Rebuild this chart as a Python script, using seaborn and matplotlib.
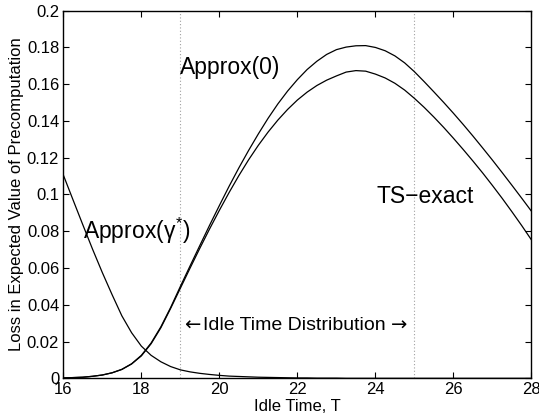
import matplotlib
matplotlib.use("Agg")
import matplotlib.pyplot as plt
import seaborn as sns
import numpy as np
import pandas as pd
from matplotlib.ticker import FormatStrFormatter

sns.set_style("ticks")
plt.rcParams['font.family'] = ['Liberation Sans', 'DejaVu Sans']
plt.rcParams['mathtext.fontset'] = 'custom'
plt.rcParams['mathtext.rm'] = 'Liberation Sans'
plt.rcParams['mathtext.it'] = 'Liberation Sans'
for k in ['text.color', 'axes.labelcolor', 'xtick.color', 'ytick.color', 'axes.edgecolor']:
    plt.rcParams[k] = 'black'

# idle time grid, values every 0.25
T = [16.0, 16.25, 16.5, 16.75, 17.0, 17.25, 17.5, 17.75, 18.0, 18.25, 18.5, 18.75,
     19.0, 19.25, 19.5, 19.75, 20.0, 20.25, 20.5, 20.75, 21.0, 21.25, 21.5, 21.75,
     22.0, 22.25, 22.5, 22.75, 23.0, 23.25, 23.5, 23.75, 24.0, 24.25, 24.5, 24.75,
     25.0, 25.25, 25.5, 25.75, 26.0, 26.25, 26.5, 26.75, 27.0, 27.25, 27.5, 27.75, 28.0]

# upper hump
approx0 = [0.0002, 0.0004, 0.0006, 0.0011, 0.0018, 0.0030, 0.0049, 0.0079, 0.0125, 0.0192,
           0.0280, 0.0385, 0.0500, 0.0612, 0.0723, 0.0833, 0.0940, 0.1045, 0.1145, 0.1240,
           0.1330, 0.1415, 0.1493, 0.1563, 0.1625, 0.1680, 0.1725, 0.1762, 0.1788, 0.1802,
           0.1809, 0.1810, 0.1800, 0.1782, 0.1754, 0.1716, 0.1668, 0.1614, 0.1558, 0.1501,
           0.1442, 0.1381, 0.1318, 0.1253, 0.1187, 0.1119, 0.1050, 0.0980, 0.0909]

# lower hump
ts_exact = [0.0002, 0.0004, 0.0006, 0.0011, 0.0018, 0.0030, 0.0048, 0.0078, 0.0122, 0.0188,
            0.0275, 0.0380, 0.0490, 0.0600, 0.0708, 0.0813, 0.0914, 0.1011, 0.1103, 0.1189,
            0.1268, 0.1340, 0.1405, 0.1463, 0.1514, 0.1557, 0.1593, 0.1622, 0.1645, 0.1666,
            0.1674, 0.1671, 0.1655, 0.1634, 0.1605, 0.1568, 0.1523, 0.1474, 0.1421, 0.1365,
            0.1306, 0.1245, 0.1182, 0.1117, 0.1049, 0.0979, 0.0906, 0.0831, 0.0753]

# decreasing curve
approx_gamma = [0.1106, 0.0970, 0.0835, 0.0702, 0.0575, 0.0455, 0.0340, 0.0248, 0.0175, 0.0125,
                0.0090, 0.0064, 0.0046, 0.0035, 0.0027, 0.0021, 0.0016, 0.0012, 0.0010, 0.0008,
                0.0006, 0.0005, 0.0004, 0.0003, 0.0002, 0.0002, 0.0001, 0.0001, 0.0001, 0.0,
                0.0, 0.0, 0.0, 0.0, 0.0, 0.0, 0.0, 0.0, 0.0, 0.0,
                0.0, 0.0, 0.0, 0.0, 0.0, 0.0, 0.0, 0.0, 0.0]

dist_bounds = [19, 25]
xticks = [16, 18, 20, 22, 24, 26, 28]
yticks = [0, 0.02, 0.04, 0.06, 0.08, 0.1, 0.12, 0.14, 0.16, 0.18, 0.2]

df = pd.DataFrame({"T": T, "Approx(0)": approx0, "TS-exact": ts_exact,
                   "Approx(gamma*)": approx_gamma})
long = df.melt(id_vars="T", var_name="curve", value_name="loss")

fig = plt.figure(figsize=(5.39, 4.19), dpi=100)
ax = fig.add_axes([0.1175, 0.0971, 0.8685, 0.8774])

for x in dist_bounds:
    ax.axvline(x, color="#a0a0a0", ls=(0, (1, 2)), lw=0.8, zorder=1)

sns.lineplot(data=long, x="T", y="loss", units="curve", estimator=None,
             color="black", lw=0.9, ax=ax, legend=False)

ax.set_xlim(16, 28)
ax.set_ylim(0, 0.2)
ax.set_xticks(xticks)
ax.set_yticks(yticks)
ax.yaxis.set_major_formatter(FormatStrFormatter('%g'))
ax.tick_params(direction="in", length=4, width=0.8, labelsize=12, pad=3,
               top=True, right=True, colors="black")
for s in ax.spines.values():
    s.set_visible(True)
    s.set_linewidth(1.0)
    s.set_color("black")

ax.set_xlabel("Idle Time, T", fontsize=12, labelpad=1)
ax.set_ylabel("Loss in Expected Value of Precomputation", fontsize=12, labelpad=2)

ax.text(19.0, 0.1655, "Approx(0)", fontsize=16.5, va="baseline")
ax.text(24.03, 0.0952, "TS\u2212exact", fontsize=16.5, va="baseline")
ax.text(16.5, 0.0756, r"Approx($\gamma^{*}$)", fontsize=16.5, va="baseline")

# idle time distribution span label, arrows drawn in DejaVu (longer glyphs)
mid = ax.text(19.58, 0.0263, "Idle Time Distribution", fontsize=14, va="baseline")
ax.annotate("\u2190", xy=(0, 0.5), xycoords=mid, xytext=(-2, 0), textcoords="offset points",
            ha="right", va="center", fontsize=14, family="DejaVu Sans")
ax.annotate("\u2192", xy=(1, 0.5), xycoords=mid, xytext=(4, 0), textcoords="offset points",
            ha="left", va="center", fontsize=14, family="DejaVu Sans")

fig.savefig("out.png", dpi=100)
